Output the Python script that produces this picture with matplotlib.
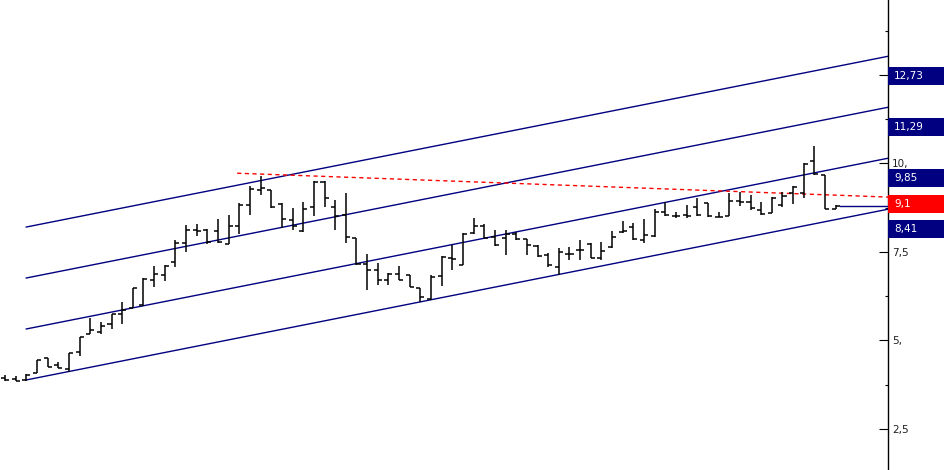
import matplotlib
matplotlib.use("Agg")
import matplotlib.pyplot as plt
from matplotlib.patches import Rectangle
import numpy as np

# ---- OHLC data (bar index 1..79) ----
opens = [3.94, 3.91, 3.88, 4.09, 4.49, 4.30, 4.19, 4.66, 5.18, 5.24,
         5.46, 5.74, 5.92, 6.00, 6.70, 6.84, 7.22, 7.76, 8.12, 8.12,
         8.09, 7.72, 8.23, 8.81, 9.25, 9.25, 8.85, 8.40, 8.09, 8.77,
         9.47, 8.77, 8.54, 7.89, 7.16, 6.99, 6.70, 6.87, 6.84, 6.48,
         6.17, 6.82, 7.32, 7.13, 8.03, 8.23, 7.92, 7.89, 8.00, 7.86,
         7.66, 7.41, 7.07, 7.44, 7.55, 7.72, 7.32, 7.64, 8.06, 8.20,
         7.83, 7.95, 8.62, 8.51, 8.54, 8.77, 8.88, 8.48, 8.51, 8.94,
         8.91, 8.68, 8.60, 8.82, 9.16, 9.16, 10.07, 9.67, 8.71]
highs = [4.02, 3.99, 4.05, 4.44, 4.49, 4.40, 4.64, 5.09, 5.62, 5.53,
         5.74, 6.07, 6.47, 6.75, 7.10, 7.13, 7.83, 8.26, 8.29, 8.14,
         8.43, 8.54, 8.88, 9.36, 9.64, 9.25, 8.88, 8.74, 8.91, 9.49,
         9.49, 8.96, 9.16, 7.89, 7.45, 7.18, 6.90, 7.10, 6.84, 6.48,
         6.84, 7.38, 7.69, 8.02, 8.45, 8.29, 8.12, 8.12, 8.06, 7.86,
         7.69, 7.47, 7.61, 7.64, 7.83, 7.75, 7.78, 8.09, 8.37, 8.31,
         8.43, 8.71, 8.91, 8.63, 8.82, 9.01, 8.89, 8.62, 9.17, 9.20,
         9.10, 8.92, 9.06, 9.20, 9.36, 10.00, 10.49, 9.67, 8.82]
lows = [3.86, 3.85, 3.85, 4.07, 4.25, 4.21, 4.11, 4.56, 5.18, 5.17,
        5.31, 5.45, 5.90, 5.98, 6.51, 6.68, 7.08, 7.49, 7.95, 7.72,
        7.75, 7.72, 8.00, 8.54, 9.10, 8.74, 8.17, 8.12, 8.06, 8.51,
        8.77, 8.12, 7.75, 7.13, 6.42, 6.56, 6.56, 6.70, 6.51, 6.08,
        6.14, 6.53, 6.99, 7.13, 8.00, 7.89, 7.66, 7.41, 7.83, 7.41,
        7.35, 7.07, 6.84, 7.27, 7.27, 7.32, 7.27, 7.61, 8.03, 7.83,
        7.75, 7.92, 8.51, 8.45, 8.45, 8.51, 8.49, 8.47, 8.51, 8.79,
        8.68, 8.54, 8.59, 8.77, 8.85, 9.01, 9.67, 8.71, 8.70]
closes = [3.88, 3.85, 4.02, 4.44, 4.25, 4.23, 4.64, 5.08, 5.29, 5.40,
          5.74, 5.86, 6.47, 6.73, 6.86, 7.11, 7.76, 8.12, 8.09, 7.78,
          7.78, 8.23, 8.81, 9.27, 9.30, 8.77, 8.43, 8.23, 8.71, 9.47,
          9.02, 8.51, 7.92, 7.15, 6.99, 6.70, 6.87, 6.70, 6.51, 6.22,
          6.79, 7.35, 7.30, 8.00, 8.23, 7.89, 7.69, 8.00, 7.86, 7.69,
          7.38, 7.13, 7.49, 7.44, 7.55, 7.32, 7.52, 7.92, 8.09, 7.86,
          7.97, 8.62, 8.54, 8.51, 8.51, 8.54, 8.50, 8.48, 8.94, 8.91,
          8.74, 8.57, 9.02, 9.08, 9.33, 9.98, 9.70, 8.71, 8.79]

# ---- channel lines (parallel) ----
channel_start_bar = 3
channel_end_bar = 79
channel_start_vals = [3.88, 5.32, 6.76, 8.20]
channel_end_vals = [8.41, 9.85, 11.29, 12.73]

# ---- red dashed trend line ----
red_start = (22.8, 9.72)
red_end = (79, 9.10)

# ---- right-side labels ----
box_values = [12.73, 11.29, 9.85, 9.1, 8.41]
box_texts = ["12,73", "11,29", "9,85", "9,1", "8,41"]
box_colors = ["#000080", "#000080", "#000080", "#ff0000", "#000080"]

major_ticks = [2.5, 5.0, 7.5, 10.0, 12.5]
major_labels = ["2,5", "5,", "7,5", "10,", ""]   # 12,5 is hidden behind a box
minor_ticks = [3.75, 6.25, 8.75, 11.25, 13.75]

# ---- figure ----
W, H = 944, 470
fig = plt.figure(figsize=(W / 100, H / 100), dpi=100)
ax = fig.add_axes([0, 0, 888 / W, 1])
x0, x1 = 0.5305, 83.91
ax.set_xlim(x0, x1)
ax.set_ylim(1.336, 14.613)

n = len(opens)
idx = np.arange(1, n + 1)
tick = 0.38
lw = 1.1
ax.vlines(idx, lows, highs, color="black", lw=lw, zorder=3)
ax.hlines(opens, idx - tick, idx, color="black", lw=lw, zorder=3)
ax.hlines(closes, idx, idx + tick, color="black", lw=lw, zorder=3)

# channel lines extended to the axis
for s, e in zip(channel_start_vals, channel_end_vals):
    slope = (e - s) / (channel_end_bar - channel_start_bar)
    xs = np.array([channel_start_bar, x1])
    ys = s + slope * (xs - channel_start_bar)
    ax.plot(xs, ys, color="#000080", lw=1.0, zorder=2)

# red dashed line
rs = (red_end[1] - red_start[1]) / (red_end[0] - red_start[0])
xs = np.array([red_start[0], x1])
ys = red_start[1] + rs * (xs - red_start[0])
ax.plot(xs, ys, color="#ff0000", lw=1.0, ls=(0, (3, 2.5)), zorder=2)

# last close line
ax.plot([n + 0.4, x1], [closes[-1], closes[-1]], color="#000080", lw=1.0, zorder=2)

# axis styling
for sp in ["left", "top", "bottom"]:
    ax.spines[sp].set_visible(False)
ax.spines["right"].set_color("black")
ax.spines["right"].set_linewidth(1.0)
ax.set_xticks([])
ax.yaxis.tick_right()
ax.set_yticks(major_ticks)
ax.set_yticklabels(major_labels)
ax.set_yticks(minor_ticks, minor=True)
ax.tick_params(axis="y", which="major", direction="in", length=6.2, width=0.8,
               pad=3, labelsize=7.5, labelcolor="#202020")
ax.tick_params(axis="y", which="minor", direction="in", length=2.4, width=0.8)

# label boxes
box_h = 18 * (14.613 - 1.336) / H
trans = ax.get_yaxis_transform()
for v, t, c in zip(box_values, box_texts, box_colors):
    r = Rectangle((1.0, v - box_h), (W - 888) / 888, box_h, transform=trans,
                  facecolor=c, edgecolor="none", clip_on=False, zorder=10)
    ax.add_patch(r)
    ax.text(1.0 + 6 / 888, v - box_h / 2, t, transform=trans, color="white",
            fontsize=7.5, va="center", ha="left", clip_on=False, zorder=11)

fig.savefig("out.png", dpi=100)
